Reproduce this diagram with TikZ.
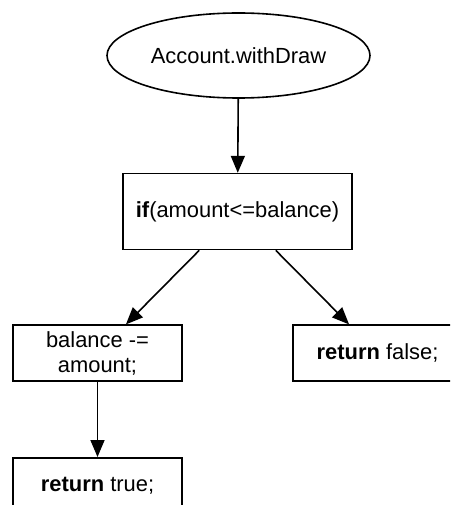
\documentclass[tikz,border=0pt]{standalone}
\usepackage{fontspec}
\setmainfont{Liberation Sans}
\usepackage{tikz}
\usetikzlibrary{shapes.geometric, arrows.meta, positioning}
\tikzstyle{method} = [ellipse, minimum width=263pt, minimum height=85pt, inner sep=0pt, text centered, draw=black, line width=1.6pt]
\tikzstyle{statement} = [rectangle, minimum width=169pt, minimum height=56pt, inner sep=0pt, align=center, draw=black, line width=1.6pt]
\tikzstyle{arrow} = [line width=1.6pt, -{Triangle[width=14pt,length=17pt]}]

\begin{document}
\begin{tikzpicture}[x=1pt, y=1pt, font=\fontsize{21.9}{25}\selectfont]
        \path[use as bounding box, clip] (0,0) rectangle (450,-505);
        \node (withDraw) [method] at (238.5,-55.5) {Account.withDraw};
        \node (cond) [statement, minimum width=229pt, minimum height=76pt, below=74pt of withDraw, xshift=-1pt] {\textbf{if}(amount<=balance)};
        \node (debit) [statement, below=74pt of cond, xshift=-140pt] {balance -=\\ amount;};
        \node (retFalse) [statement, below=74pt of cond, xshift=140pt] {\textbf{return} false;};
        \node (retTrue) [statement, below=75pt of debit] {\textbf{return} true;};

        \draw [arrow] (withDraw) -- (cond);
        \draw [arrow] (cond) -- (debit);
        \draw [arrow] (cond) -- (retFalse);
        \draw [arrow] (debit) -- (retTrue);
    \end{tikzpicture}
\end{document}
